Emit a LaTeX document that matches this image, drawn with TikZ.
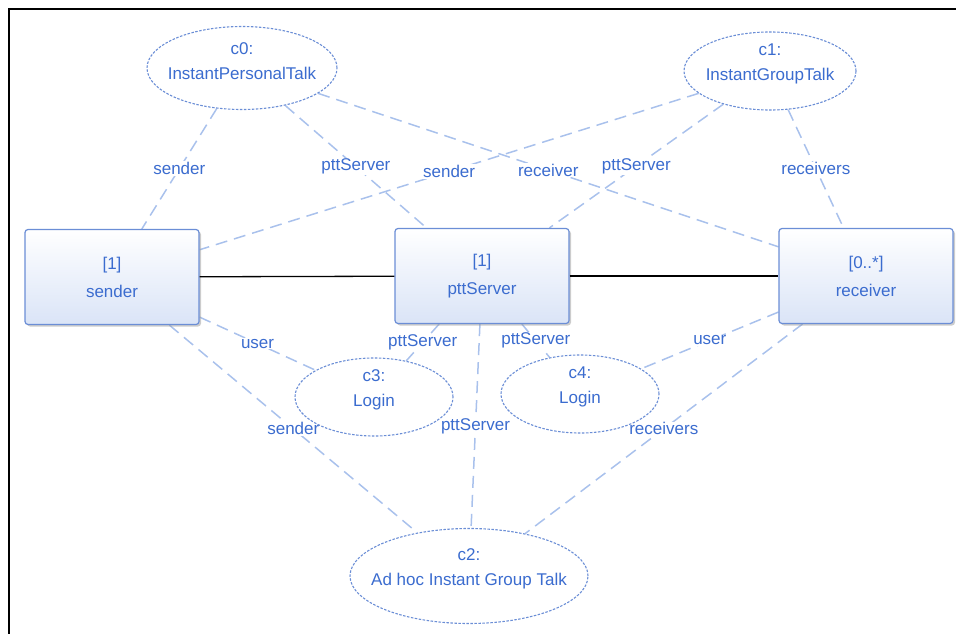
\documentclass[tikz,border=0pt]{standalone}
\usepackage{fontspec}
\setmainfont{Liberation Sans}
\usetikzlibrary{shapes.geometric,shadows}
\pgfdeclarelayer{background}
\pgfsetlayers{background,main}
\definecolor{umltext}{HTML}{3B6CCF}
\definecolor{umlborder}{HTML}{6B8ED6}
\definecolor{umlfill}{HTML}{DAE4F7}
\definecolor{umlline}{HTML}{A9C1EC}
\tikzset{
  part/.style={
    draw=umlborder,line width=1.2pt,rounded corners=3pt,
    top color=white,bottom color=umlfill,
    minimum width=174pt,minimum height=95pt,
    align=center,text=umltext,font=\fontsize{17}{28}\selectfont,
    drop shadow={shadow xshift=2pt,shadow yshift=-2pt,fill=black!40},
  },
  collab/.style={
    ellipse,draw=umlborder,dash pattern=on 2.5pt off 1.5pt,line width=1.1pt,
    fill=white,inner sep=0pt,
  },
  collabtext/.style={align=center,text=umltext,font=\fontsize{17}{25}\selectfont,yshift=7pt},
  connector/.style={draw=black,line width=1.3pt},
  roleline/.style={draw=umlline,line width=1.5pt,dash pattern=on 12pt off 7pt},
  rolename/.style={midway,fill=white,inner sep=1pt,text=umltext,font=\fontsize{17}{20}\selectfont},
}

\begin{document}
\begin{tikzpicture}[x=1pt,y=-1pt]
    \useasboundingbox (0,0) rectangle (956,634);
    \draw[line width=2.5pt] (9,640) -- (9,9) -- (960,9);

    % parts
    \node[part] (snd) at (112,277) {[1]\\sender};
    \node[part] (srv) at (482,276) {[1]\\pttServer};
    \node[part] (rcv) at (866,276) {[0..*]\\receiver};

    % collaborations
    \node[collab,minimum width=190pt,minimum height=83pt,
        label={[collabtext]center:{c0:\\InstantPersonalTalk}}] (c0) at (242,68) {};
    \node[collab,minimum width=172pt,minimum height=78pt,
        label={[collabtext]center:{c1:\\InstantGroupTalk}}] (c1) at (770,71) {};
    \node[collab,minimum width=158pt,minimum height=78pt,
        label={[collabtext]center:{c3:\\Login}}] (c3) at (374,397) {};
    \node[collab,minimum width=158pt,minimum height=78pt,
        label={[collabtext]center:{c4:\\Login}}] (c4) at (580,394) {};
    \node[collab,minimum width=238pt,minimum height=95pt,
        label={[collabtext]center:{c2:\\Ad hoc Instant Group Talk}}] (c2) at (469,576) {};

    \draw[connector] (snd) -- (srv);
    \draw[connector] (srv) -- (rcv);

    \begin{pgfonlayer}{background}
        \draw[roleline] (c0) -- node[rolename] {sender} (snd);
        \draw[roleline] (c0) -- node[rolename] {pttServer} (srv);
        \draw[roleline] (c0) -- node[rolename] {receiver} (rcv);
        \draw[roleline] (c1) -- node[rolename] {sender} (snd);
        \draw[roleline] (c1) -- node[rolename] {pttServer} (srv);
        \draw[roleline] (c1) -- node[rolename] {receivers} (rcv);
        \draw[roleline] (snd) -- node[rolename] {user} (c3);
        \draw[roleline] (srv) -- node[rolename] {pttServer} (c3);
        \draw[roleline] (srv) -- node[rolename] {pttServer} (c4);
        \draw[roleline] (rcv) -- node[rolename] {user} (c4);
        \draw[roleline] (snd) -- node[rolename] {sender} (c2);
        \draw[roleline] (srv) -- node[rolename] {pttServer} (c2);
        \draw[roleline] (rcv) -- node[rolename] {receivers} (c2);
    \end{pgfonlayer}
\end{tikzpicture}
\end{document}
